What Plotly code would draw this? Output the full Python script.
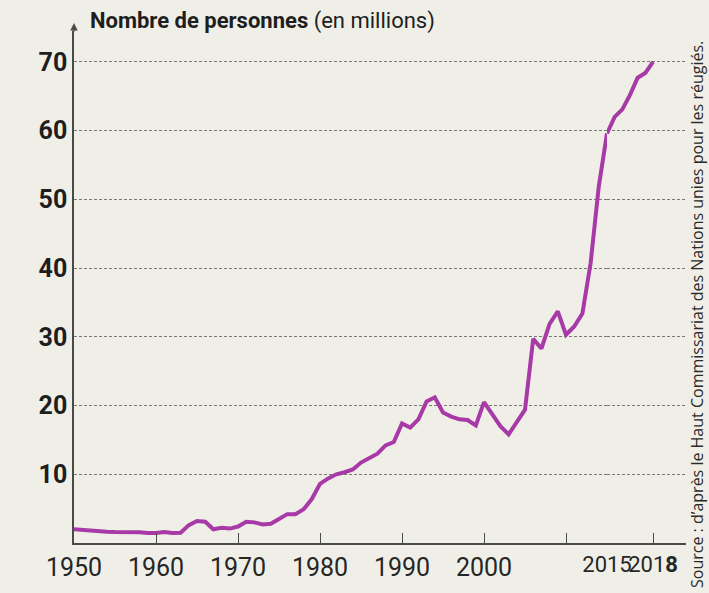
import plotly.graph_objects as go

# Données (millions de personnes)
years_main = list(range(1950, 2016))
values_main = [
    2.0, 1.9, 1.75, 1.7, 1.65, 1.6, 1.6, 1.6, 1.55, 1.45,      # 1950-1959
    1.45, 1.6, 1.45, 1.5, 2.6, 3.2, 3.1, 2.0, 2.2, 2.1,        # 1960-1969
    2.4, 3.1, 3.0, 2.7, 2.8, 3.5, 4.2, 4.2, 4.9, 6.4,          # 1970-1979
    8.6, 9.4, 10.0, 10.3, 10.7, 11.7, 12.4, 13.0, 14.2, 14.7,  # 1980-1989
    17.4, 16.8, 18.0, 20.6, 21.2, 19.0, 18.4, 18.0, 17.9, 17.1,  # 1990-1999
    20.5, 18.7, 17.0, 15.8, 17.6, 19.4, 29.7, 28.3, 31.9, 33.7,  # 2000-2009
    30.3, 31.5, 33.4, 40.7, 51.9, 59.6,                         # 2010-2015
]
years_end = [2015, 2015.5, 2016, 2016.5, 2017, 2017.5, 2018]
values_end = [59.6, 62.0, 63.1, 65.2, 67.7, 68.4, 70.0]

x_ticks_main = [1950, 1960, 1970, 1980, 1990, 2000, 2010]
x_labels_main = ["1950", "1960", "1970", "1980", "1990", "2000", ""]
x_ticks_end = [2015, 2018]
x_labels_end = ["2015", "201<b>8</b>"]
y_ticks = [10, 20, 30, 40, 50, 60, 70]

LINE = "#a83aa8"
AXIS = "#4a4a4a"
GRID = "#7a7a74"
BG = "#f0efe7"
NARROW = "Liberation Sans Narrow, Arial Narrow, Roboto, sans-serif"

fig = go.Figure()
fig.add_trace(go.Scatter(x=years_main, y=values_main, mode="lines",
                         line=dict(color=LINE, width=4), xaxis="x", yaxis="y",
                         showlegend=False, hoverinfo="x+y"))
fig.add_trace(go.Scatter(x=years_end, y=values_end, mode="lines",
                         line=dict(color=LINE, width=4), xaxis="x2", yaxis="y",
                         showlegend=False, hoverinfo="x+y"))

split = (607 - 74) / 612

common_x = dict(showline=True, linecolor=AXIS, linewidth=1.5, showgrid=False,
                zeroline=False, ticks="inside", ticklen=10, tickcolor=AXIS,
                tickwidth=1.2, ticklabelstandoff=1, tickangle=0, automargin=False)

fig.update_layout(
    width=709, height=593,
    margin=dict(l=74, r=23, t=31, b=50, autoexpand=False),
    paper_bgcolor=BG, plot_bgcolor=BG,
    xaxis=dict(domain=[0, split], range=[1950, 2015], tickmode="array",
               tickvals=x_ticks_main, ticktext=x_labels_main, anchor="y",
               tickfont=dict(family=NARROW, size=25, color="#262626"), **common_x),
    xaxis2=dict(domain=[split, 1], range=[2015, 2020.15], tickmode="array",
                tickvals=x_ticks_end, ticktext=x_labels_end, anchor="y",
                tickfont=dict(family=NARROW, size=22, color="#262626"), **common_x),
    yaxis=dict(range=[0, 74.5], tickmode="array", tickvals=y_ticks,
               showline=True, linecolor=AXIS, linewidth=1.5, zeroline=False,
               showgrid=True, gridcolor=GRID, griddash="3px,2px", gridwidth=1,
               ticks="", ticklabelstandoff=0, automargin=False,
               tickfont=dict(family=NARROW, size=25, color="#1e1e1e", weight="bold")),
    annotations=[
        dict(xref="paper", yref="paper", x=0, y=(543 - 23) / 512, ax=0, ay=10,
             showarrow=True, arrowhead=2, arrowsize=1, arrowwidth=1.5,
             arrowcolor=AXIS, text=""),
        dict(xref="paper", yref="paper", x=0, xshift=14, y=(543 - 21) / 512,
             xanchor="left", yanchor="middle", showarrow=False,
             text="<b>Nombre de personnes</b> (en millions)",
             font=dict(family=NARROW, size=22, color="#1e1e1e")),
        dict(xref="paper", yref="paper", x=(697 - 74) / 612, y=(543 - 315) / 512,
             xanchor="center", yanchor="middle", showarrow=False, textangle=-90,
             text="Source : d’après le Haut Commissariat des Nations unies pour les réugiés.",
             font=dict(family="Open Sans, sans-serif", size=16, color="#2a2a2a")),
    ],
)

fig.write_html(
    "out.html",
    config={"displayModeBar": False},
    post_script="document.body.style.margin='0';document.body.style.overflow='hidden';",
)
